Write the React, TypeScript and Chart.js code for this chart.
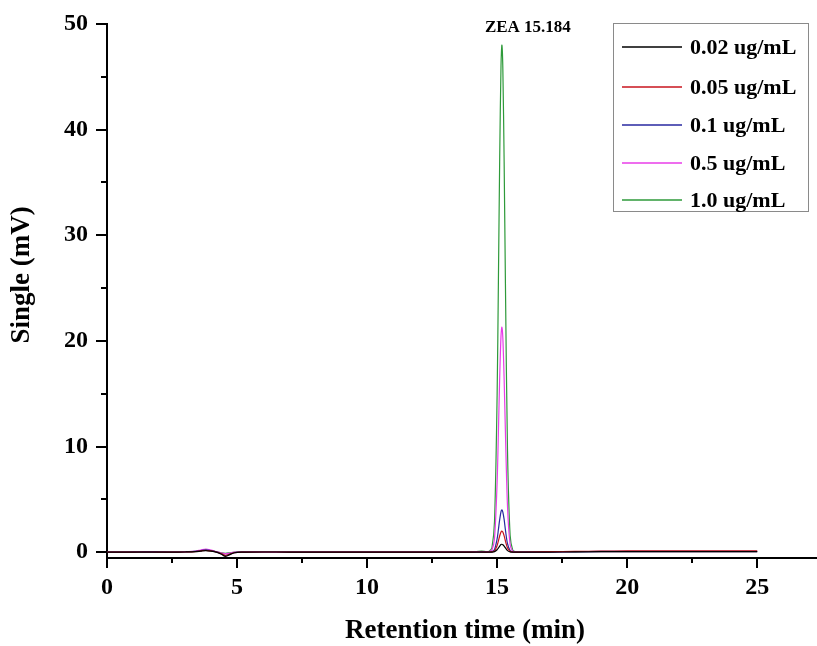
import React, { useEffect, useRef } from "react";
import { Chart, registerables } from "chart.js";

Chart.register(...registerables);

// Retention time (min)
const times = [
  0, 0.5, 1.0, 1.5, 2.0, 2.5, 3.0,
  3.4, 3.6, 3.8, 4.0, 4.2, 4.4, 4.55, 4.7, 4.9, 5.2,
  6, 7, 8, 9, 10, 11, 12, 13, 14,
  14.4, 14.6, 14.7, 14.8, 14.9, 15.0, 15.05, 15.1, 15.15, 15.184,
  15.22, 15.27, 15.32, 15.4, 15.5, 15.6, 15.7, 15.8,
  16, 17, 18, 19, 20, 21, 22, 23, 24, 25,
];

const seriesLabels = ["0.02 ug/mL", "0.05 ug/mL", "0.1 ug/mL", "0.5 ug/mL", "1.0 ug/mL"];
const seriesColors = ["#000000", "#c8141e", "#2828a0", "#e83ce8", "#2e9a3a"];

const conc002 = [
  0, 0, 0, 0.01, 0, 0, 0.02,
  0.05, 0.1, 0.15, 0.1, 0, -0.2, -0.4, -0.25, -0.05, 0,
  0.02, 0.01, 0, 0, 0, 0, 0, 0, 0.01,
  0.01, 0, 0.01, 0.01, 0.05, 0.23, 0.4, 0.58, 0.72, 0.75,
  0.71, 0.58, 0.4, 0.15, 0.03, 0.01, 0, 0,
  0, 0.01, 0.03, 0.05, 0.06, 0.06, 0.06, 0.06, 0.06, 0.06,
];
const conc005 = [
  0, 0, 0.01, 0.02, 0.01, 0, 0.02,
  0.06, 0.12, 0.18, 0.12, 0.02, -0.15, -0.3, -0.2, -0.05, 0,
  0.02, 0.01, 0, 0, 0, 0, 0, 0, 0.01,
  0.02, 0.01, 0.02, 0.03, 0.12, 0.62, 1.07, 1.56, 1.92, 2.0,
  1.9, 1.54, 1.06, 0.4, 0.08, 0.02, 0.01, 0.01,
  0.02, 0.05, 0.08, 0.1, 0.12, 0.12, 0.12, 0.12, 0.12, 0.12,
];
const conc01 = [
  0, 0.01, 0.03, 0.06, 0.04, 0.01, 0.03,
  0.08, 0.15, 0.22, 0.15, 0.03, -0.15, -0.32, -0.2, -0.04, 0,
  0.02, 0.01, 0, 0, 0, 0, 0, 0, 0.01,
  0.03, 0.02, 0.03, 0.05, 0.25, 1.25, 2.15, 3.1, 3.85, 4.0,
  3.8, 3.1, 2.1, 0.8, 0.15, 0.03, 0.02, 0.01,
  0.01, 0.03, 0.05, 0.07, 0.08, 0.08, 0.08, 0.08, 0.08, 0.08,
];
const conc05 = [
  0, 0, 0.01, 0.02, 0.01, 0.01, 0.04,
  0.1, 0.2, 0.3, 0.2, 0.05, -0.08, -0.15, -0.1, 0, 0.02,
  0.02, 0.01, 0, 0, 0, 0, 0, 0, 0.02,
  0.05, 0.03, 0.05, 0.2, 1.3, 6.6, 11.4, 16.6, 20.5, 21.3,
  20.3, 16.4, 11.3, 4.3, 0.7, 0.1, 0.03, 0.01,
  0.01, 0.02, 0.04, 0.05, 0.06, 0.06, 0.06, 0.06, 0.06, 0.06,
];
const conc10 = [
  0.03, 0.03, 0.03, 0.03, 0.03, 0.03, 0.05,
  0.08, 0.15, 0.2, 0.15, 0.05, -0.05, -0.1, -0.06, 0.02, 0.03,
  0.03, 0.02, 0.01, 0.01, 0.01, 0.01, 0.01, 0.01, 0.03,
  0.1, 0.05, 0.1, 0.4, 2.9, 14.8, 25.7, 37.4, 46.1, 48.0,
  45.8, 37.0, 25.4, 9.6, 1.6, 0.2, 0.05, 0.02,
  0.01, 0.02, 0.03, 0.04, 0.05, 0.05, 0.05, 0.05, 0.05, 0.05,
];
const seriesValues = [conc002, conc005, conc01, conc05, conc10];

const xTickValues = [0, 5, 10, 15, 20, 25];
const xMinorValues = [2.5, 7.5, 12.5, 17.5, 22.5];
const yTickValues = [0, 10, 20, 30, 40, 50];
const yMinorValues = [5, 15, 25, 35, 45];

const peakTime = 15.184;
const peakLabel = "ZEA 15.184";
const xTitle = "Retention time (min)";
const yTitle = "Single (mV)";

const FONT = '"Liberation Serif", "Times New Roman", serif';

export default function App() {
  const canvasRef = useRef<HTMLCanvasElement | null>(null);

  useEffect(() => {
    const canvas = canvasRef.current;
    if (!canvas) return;

    const extras = {
      id: "extras",
      afterDraw(chart: any) {
        const ctx = chart.ctx;
        const xs = chart.scales.x;
        const ys = chart.scales.y;
        const area = chart.chartArea;
        ctx.save();
        ctx.strokeStyle = "#000";
        ctx.lineWidth = 2;
        const drawX = (v: number, len: number) => {
          const px = Math.round(xs.getPixelForValue(v));
          ctx.beginPath();
          ctx.moveTo(px, area.bottom);
          ctx.lineTo(px, area.bottom + len);
          ctx.stroke();
        };
        xTickValues.forEach((v) => drawX(v, 10));
        xMinorValues.forEach((v) => drawX(v, 5));
        const drawY = (v: number, len: number) => {
          const py = Math.round(ys.getPixelForValue(v));
          ctx.beginPath();
          ctx.moveTo(area.left, py);
          ctx.lineTo(area.left - len, py);
          ctx.stroke();
        };
        yTickValues.forEach((v) => drawY(v, 11));
        yMinorValues.forEach((v) => drawY(v, 6));

        // y axis title
        ctx.save();
        ctx.translate(22, 275);
        ctx.rotate(-Math.PI / 2);
        ctx.fillStyle = "#000";
        ctx.font = `bold 27px ${FONT}`;
        ctx.textAlign = "center";
        ctx.textBaseline = "middle";
        ctx.fillText(yTitle, 0, 0);
        ctx.restore();

        // x axis title
        ctx.fillStyle = "#000";
        ctx.font = `bold 27px ${FONT}`;
        ctx.textAlign = "center";
        ctx.textBaseline = "middle";
        ctx.fillText(xTitle, 465, 631);

        // peak annotation
        ctx.fillStyle = "#000";
        ctx.font = `bold 17px ${FONT}`;
        ctx.textAlign = "left";
        ctx.textBaseline = "middle";
        ctx.fillText(peakLabel, xs.getPixelForValue(peakTime) - 17, 28);

        // legend
        ctx.strokeStyle = "#8a8a8a";
        ctx.lineWidth = 1;
        ctx.strokeRect(613.5, 23.5, 195, 188);
        const rows = [47, 87, 125, 163, 200];
        seriesLabels.forEach((lab, i) => {
          ctx.strokeStyle = seriesColors[i];
          ctx.lineWidth = 1.3;
          ctx.beginPath();
          ctx.moveTo(622, rows[i]);
          ctx.lineTo(682, rows[i]);
          ctx.stroke();
          ctx.fillStyle = "#000";
          ctx.font = `bold 22px ${FONT}`;
          ctx.textAlign = "left";
          ctx.textBaseline = "middle";
          ctx.fillText(lab, 690, rows[i] + 1);
        });
        ctx.restore();
      },
    };

    const chart = new Chart(canvas, {
      type: "line",
      data: {
        datasets: seriesValues.map((vals, i) => ({
          label: seriesLabels[i],
          data: times.map((t, j) => ({ x: t, y: vals[j] })),
          borderColor: seriesColors[i],
          backgroundColor: seriesColors[i],
          borderWidth: 1.2,
          pointRadius: 0,
          tension: 0.3,
          fill: false,
        })),
      },
      options: {
        responsive: false,
        animation: false,
        layout: { padding: { top: 24, right: 0, left: 0, bottom: 0 } },
        plugins: {
          legend: { display: false },
          tooltip: { enabled: false },
        },
        scales: {
          x: {
            type: "linear",
            min: 0,
            max: 27.3,
            grid: { display: false, drawTicks: false },
            border: { display: true, color: "#000", width: 2 },
            afterBuildTicks: (s: any) => {
              s.ticks = xTickValues.map((v) => ({ value: v }));
            },
            afterFit: (s: any) => {
              s.height = 88;
              s.paddingLeft = 0;
              s.paddingRight = 0;
            },
            ticks: {
              padding: 15,
              color: "#000",
              maxRotation: 0,
              font: { family: FONT, size: 24, weight: "bold" },
              callback: (v: any) => String(v),
            },
          },
          y: {
            type: "linear",
            min: -0.55,
            max: 50,
            grid: { display: false, drawTicks: false },
            border: { display: true, color: "#000", width: 2 },
            afterBuildTicks: (s: any) => {
              s.ticks = yTickValues.map((v) => ({ value: v }));
            },
            afterFit: (s: any) => {
              s.width = 107;
              s.paddingTop = 0;
              s.paddingBottom = 0;
            },
            ticks: {
              padding: 19,
              color: "#000",
              font: { family: FONT, size: 24, weight: "bold" },
              callback: (v: any) => String(v),
            },
          },
        },
      },
      plugins: [extras],
    } as any);

    return () => chart.destroy();
  }, []);

  return (
    <div style={{ position: "absolute", left: 0, top: 0, width: 817, height: 646, background: "#fff" }}>
      <canvas ref={canvasRef} width={817} height={646} style={{ width: 817, height: 646, display: "block" }} />
    </div>
  );
}
